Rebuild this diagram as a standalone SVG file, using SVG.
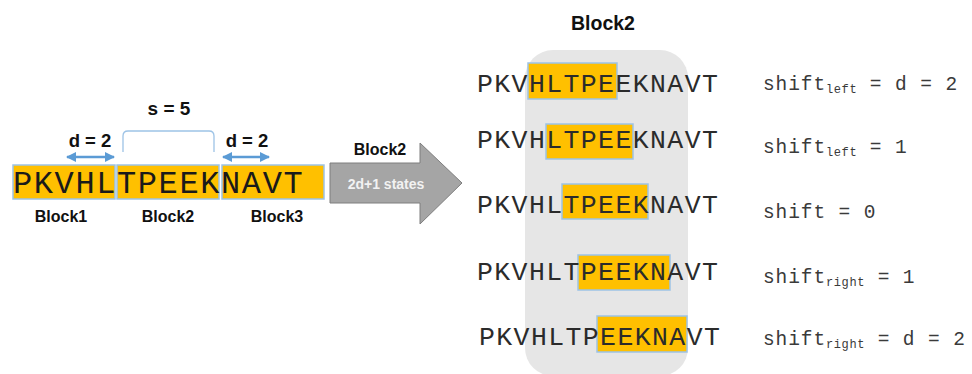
<svg xmlns="http://www.w3.org/2000/svg" width="972" height="374" viewBox="0 0 972 374">
  <style>
    .hl { fill: #FFC000; stroke: #9DC3E6; stroke-width: 1.5; }
    .seqL { font-family: "Liberation Mono", "Courier New", monospace; font-size: 32px; letter-spacing: 1.6px; fill: #1a1a1a; }
    .seqR { font-family: "Liberation Mono", "Courier New", monospace; font-size: 26.5px; letter-spacing: 1.4px; fill: #2b2b2b; }
    .lbl { font-family: "Liberation Sans", Arial, sans-serif; font-weight: bold; fill: #111; text-anchor: middle; }
    .shift { font-family: "Liberation Mono", "Courier New", monospace; font-size: 19.5px; letter-spacing: 0.9px; fill: #3a3a3a; }
    .sub { font-size: 12px; letter-spacing: 0.6px; }
    .dim { stroke: #5B9BD5; stroke-width: 2.5; fill: none; }
  </style>
  <defs>
    <marker id="tri" viewBox="0 0 10 10" refX="9" refY="5" markerWidth="4" markerHeight="4" orient="auto-start-reverse" markerUnits="strokeWidth">
      <path d="M0,0 L10,5 L0,10 Z" fill="#5B9BD5"/>
    </marker>
  </defs>

  <!-- Background panel for the Block2 states -->
  <rect x="525" y="50" width="163" height="326" rx="28" fill="#E6E6E6"/>

  <!-- Left: sequence split into three blocks -->
  <g id="sequence">
    <rect class="hl" x="13" y="165" width="102" height="34"/>
    <rect class="hl" x="117" y="165" width="102" height="34"/>
    <rect class="hl" x="222" y="165" width="102" height="34"/>
    <text class="seqL" x="13" y="193">PKVHLTPEEKNAVT</text>
  </g>
  <g id="block1-label"><text class="lbl" x="61" y="222" font-size="16">Block1</text></g>
  <g id="block2-label"><text class="lbl" x="168" y="222" font-size="16">Block2</text></g>
  <g id="block3-label"><text class="lbl" x="277" y="222" font-size="16">Block3</text></g>

  <!-- Dimension annotations -->
  <g id="dimensions">
    <line class="dim" x1="67" y1="157" x2="114" y2="157" marker-start="url(#tri)" marker-end="url(#tri)"/>
    <line class="dim" x1="223" y1="157" x2="269" y2="157" marker-start="url(#tri)" marker-end="url(#tri)"/>
    <path d="M123,152 L123,136 Q123,131 128,131 L209,131 Q214,131 214,136 L214,152" fill="none" stroke="#9DC3E6" stroke-width="1.3"/>
    <text class="lbl" x="90" y="147" font-size="18.5">d = 2</text>
    <text class="lbl" x="247" y="147" font-size="18.5">d = 2</text>
    <text class="lbl" x="169" y="115" font-size="19">s = 5</text>
  </g>

  <!-- Big arrow -->
  <g id="arrow">
    <polygon points="330,163 420,163 420,143 462,183 420,224 420,203 330,203" fill="#A5A5A5" stroke="#7F7F7F" stroke-width="1"/>
    <text class="lbl" x="380" y="155" font-size="16">Block2</text>
    <text x="386" y="189" font-family="Liberation Sans, Arial, sans-serif" font-weight="bold" font-size="14" fill="#F2F2F2" text-anchor="middle">2d+1 states</text>
  </g>

  <!-- Right: the shifted states -->
  <g id="title"><text class="lbl" x="603" y="30" font-size="19.5">Block2</text></g>

  <g id="state-left2">
    <rect class="hl" x="528" y="63" width="89" height="36"/>
    <text class="seqR" x="477" y="92">PKVHLTPEEKNAVT</text>
    <text class="shift" x="763" y="90">shift<tspan class="sub" dy="3">left</tspan><tspan dy="-3"> = d = 2</tspan></text>
  </g>
  <g id="state-left1">
    <rect class="hl" x="546" y="124" width="87" height="35"/>
    <text class="seqR" x="477" y="148">PKVHLTPEEKNAVT</text>
    <text class="shift" x="763" y="153">shift<tspan class="sub" dy="3">left</tspan><tspan dy="-3"> = 1</tspan></text>
  </g>
  <g id="state-zero">
    <rect class="hl" x="562" y="184" width="86" height="35"/>
    <text class="seqR" x="477" y="213">PKVHLTPEEKNAVT</text>
    <text class="shift" x="763" y="218">shift = 0</text>
  </g>
  <g id="state-right1">
    <rect class="hl" x="578" y="255" width="92" height="35"/>
    <text class="seqR" x="477" y="280">PKVHLTPEEKNAVT</text>
    <text class="shift" x="763" y="283">shift<tspan class="sub" dy="3">right</tspan><tspan dy="-3"> = 1</tspan></text>
  </g>
  <g id="state-right2">
    <rect class="hl" x="597" y="316" width="90" height="36"/>
    <text class="seqR" x="479" y="345">PKVHLTPEEKNAVT</text>
    <text class="shift" x="763" y="345">shift<tspan class="sub" dy="3">right</tspan><tspan dy="-3"> = d = 2</tspan></text>
  </g>
</svg>
